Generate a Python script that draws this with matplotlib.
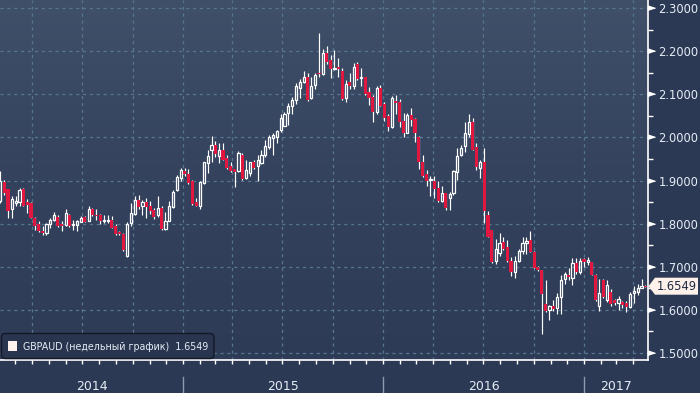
import datetime as dt
import numpy as np
import matplotlib
matplotlib.use("Agg")
import matplotlib.pyplot as plt
import matplotlib.dates as mdates
import matplotlib.transforms as mtransforms
from matplotlib.patches import Rectangle, Polygon, FancyBboxPatch
from matplotlib.colors import LinearSegmentedColormap

# ---------------- data (weekly GBPAUD candles) ----------------
start_date = dt.date(2014, 2, 2)
opens = [1.852, 1.897, 1.881, 1.833, 1.848, 1.850, 1.881, 1.850, 1.848, 1.813,
         1.800, 1.782, 1.778, 1.798, 1.808, 1.815, 1.798, 1.796, 1.821, 1.796,
         1.796, 1.804, 1.815, 1.805, 1.833, 1.820, 1.819, 1.805, 1.805, 1.809,
         1.794, 1.781, 1.777, 1.726, 1.802, 1.823, 1.854, 1.842, 1.850, 1.842,
         1.831, 1.819, 1.837, 1.788, 1.806, 1.839, 1.877, 1.906, 1.921, 1.916,
         1.898, 1.850, 1.842, 1.894, 1.941, 1.970, 1.983, 1.956, 1.970, 1.952,
         1.933, 1.927, 1.921, 1.958, 1.906, 1.917, 1.942, 1.934, 1.941, 1.958,
         1.978, 1.999, 2.001, 2.016, 2.027, 2.056, 2.072, 2.086, 2.114, 2.129,
         2.141, 2.091, 2.122, 2.148, 2.148, 2.196, 2.179, 2.158, 2.164, 2.155,
         2.091, 2.129, 2.119, 2.170, 2.137, 2.139, 2.106, 2.093, 2.058, 2.114,
         2.078, 2.050, 2.024, 2.085, 2.082, 2.039, 2.011, 2.052, 2.042, 2.000,
         1.944, 1.916, 1.901, 1.898, 1.883, 1.852, 1.870, 1.860, 1.870, 1.919,
         1.960, 1.979, 2.008, 2.036, 1.977, 1.929, 1.942, 1.821, 1.785, 1.714,
         1.733, 1.758, 1.745, 1.714, 1.687, 1.714, 1.737, 1.754, 1.762, 1.735,
         1.700, 1.692, 1.614, 1.600, 1.608, 1.604, 1.631, 1.671, 1.682, 1.674,
         1.708, 1.688, 1.718, 1.712, 1.710, 1.682, 1.609, 1.670, 1.624, 1.642,
         1.622, 1.617, 1.619, 1.615, 1.607, 1.638, 1.642, 1.650, 1.6556]
highs = [1.922, 1.902, 1.881, 1.864, 1.865, 1.883, 1.883, 1.856, 1.850, 1.815,
         1.805, 1.795, 1.802, 1.813, 1.826, 1.819, 1.805, 1.833, 1.823, 1.809,
         1.809, 1.818, 1.817, 1.840, 1.836, 1.835, 1.823, 1.819, 1.819, 1.817,
         1.798, 1.782, 1.778, 1.803, 1.848, 1.863, 1.867, 1.854, 1.860, 1.852,
         1.836, 1.865, 1.840, 1.826, 1.852, 1.879, 1.913, 1.929, 1.929, 1.927,
         1.902, 1.860, 1.898, 1.944, 1.970, 2.004, 1.991, 1.987, 1.987, 1.958,
         1.944, 1.927, 1.968, 1.964, 1.948, 1.944, 1.948, 1.958, 1.971, 1.995,
         2.006, 2.009, 2.018, 2.055, 2.060, 2.079, 2.093, 2.127, 2.135, 2.155,
         2.149, 2.141, 2.149, 2.241, 2.206, 2.212, 2.191, 2.202, 2.185, 2.162,
         2.133, 2.149, 2.172, 2.175, 2.160, 2.139, 2.116, 2.099, 2.119, 2.122,
         2.081, 2.055, 2.095, 2.098, 2.088, 2.056, 2.057, 2.067, 2.044, 2.003,
         1.960, 1.925, 1.911, 1.910, 1.898, 1.888, 1.870, 1.873, 1.925, 1.975,
         1.983, 2.036, 2.054, 2.044, 1.988, 1.948, 1.975, 1.829, 1.785, 1.764,
         1.779, 1.768, 1.762, 1.722, 1.725, 1.741, 1.768, 1.768, 1.784, 1.737,
         1.702, 1.693, 1.669, 1.612, 1.622, 1.638, 1.681, 1.688, 1.696, 1.720,
         1.720, 1.720, 1.720, 1.722, 1.712, 1.684, 1.672, 1.672, 1.670, 1.648,
         1.625, 1.632, 1.621, 1.621, 1.642, 1.655, 1.659, 1.671, 1.657]
lows = [1.848, 1.867, 1.813, 1.813, 1.840, 1.842, 1.840, 1.825, 1.813, 1.786,
        1.780, 1.774, 1.774, 1.790, 1.805, 1.793, 1.784, 1.794, 1.792, 1.786,
        1.782, 1.803, 1.803, 1.805, 1.817, 1.809, 1.800, 1.802, 1.802, 1.790,
        1.774, 1.774, 1.736, 1.722, 1.794, 1.821, 1.833, 1.819, 1.813, 1.823,
        1.810, 1.816, 1.786, 1.785, 1.806, 1.836, 1.875, 1.898, 1.911, 1.893,
        1.844, 1.840, 1.834, 1.893, 1.918, 1.944, 1.954, 1.941, 1.947, 1.927,
        1.919, 1.885, 1.919, 1.902, 1.904, 1.911, 1.927, 1.900, 1.939, 1.954,
        1.973, 1.960, 1.987, 2.012, 2.026, 2.029, 2.055, 2.078, 2.091, 2.127,
        2.085, 2.089, 2.112, 2.141, 2.144, 2.170, 2.137, 2.156, 2.139, 2.086,
        2.081, 2.112, 2.112, 2.132, 2.119, 2.099, 2.075, 2.035, 2.055, 2.072,
        2.037, 2.014, 2.022, 2.054, 2.025, 2.000, 2.009, 2.026, 1.990, 1.927,
        1.908, 1.888, 1.865, 1.860, 1.850, 1.850, 1.832, 1.832, 1.867, 1.902,
        1.956, 1.967, 2.002, 1.970, 1.925, 1.906, 1.802, 1.768, 1.709, 1.706,
        1.724, 1.739, 1.712, 1.679, 1.673, 1.712, 1.729, 1.729, 1.735, 1.696,
        1.690, 1.544, 1.594, 1.577, 1.598, 1.591, 1.591, 1.659, 1.669, 1.657,
        1.684, 1.684, 1.700, 1.703, 1.680, 1.620, 1.598, 1.628, 1.618, 1.610,
        1.612, 1.599, 1.604, 1.594, 1.605, 1.617, 1.635, 1.650, 1.654]
closes = [1.898, 1.871, 1.829, 1.856, 1.853, 1.879, 1.842, 1.843, 1.813, 1.795,
          1.782, 1.778, 1.798, 1.809, 1.819, 1.795, 1.794, 1.825, 1.794, 1.800,
          1.805, 1.812, 1.804, 1.834, 1.819, 1.817, 1.805, 1.809, 1.808, 1.791,
          1.776, 1.777, 1.738, 1.800, 1.825, 1.854, 1.839, 1.851, 1.839, 1.829,
          1.816, 1.837, 1.788, 1.805, 1.840, 1.873, 1.908, 1.925, 1.915, 1.894,
          1.846, 1.842, 1.896, 1.942, 1.956, 1.983, 1.962, 1.971, 1.947, 1.929,
          1.921, 1.920, 1.964, 1.904, 1.925, 1.942, 1.929, 1.948, 1.960, 1.981,
          2.000, 2.005, 2.014, 2.045, 2.055, 2.072, 2.086, 2.118, 2.129, 2.139,
          2.087, 2.119, 2.145, 2.146, 2.196, 2.175, 2.158, 2.162, 2.158, 2.089,
          2.124, 2.119, 2.164, 2.135, 2.139, 2.101, 2.091, 2.058, 2.114, 2.073,
          2.045, 2.024, 2.091, 2.079, 2.036, 2.009, 2.052, 2.040, 2.011, 1.944,
          1.911, 1.898, 1.904, 1.881, 1.852, 1.870, 1.837, 1.868, 1.921, 1.957,
          1.976, 2.011, 2.036, 1.970, 1.931, 1.942, 1.829, 1.770, 1.710, 1.741,
          1.755, 1.741, 1.714, 1.687, 1.714, 1.737, 1.756, 1.760, 1.735, 1.698,
          1.692, 1.637, 1.598, 1.608, 1.602, 1.631, 1.669, 1.684, 1.677, 1.708,
          1.688, 1.713, 1.712, 1.716, 1.682, 1.622, 1.638, 1.631, 1.657, 1.613,
          1.615, 1.625, 1.612, 1.607, 1.636, 1.644, 1.650, 1.655, 1.6549]

last_price = 1.6549
series_label = "GBPAUD (недельный график)  1.6549"
y_ticks = [1.5, 1.6, 1.7, 1.8, 1.9, 2.0, 2.1, 2.2, 2.3]
years = [2014, 2015, 2016, 2017]

# ---------------- style ----------------
W, H = 700, 393
FIG_BG = "#2c3954"
TOP_BG = "#405069"
BOT_BG = "#2e3b57"
GRID_C = "#56778f"
UP_C = "#ffffff"
DOWN_C = "#e2173f"
TXT_C = "#e4ecf5"

plt.rcParams["font.family"] = ["DejaVu Sans"]

fig = plt.figure(figsize=(W / 100, H / 100), dpi=100, facecolor=FIG_BG)
ax_left, ax_right, ax_top, ax_bot = 0, 648, 0, 360  # pixel box
ax = fig.add_axes([ax_left / W, 1 - ax_bot / H, (ax_right - ax_left) / W, (ax_bot - ax_top) / H])
ax.set_facecolor(BOT_BG)

# x scale: year separators at pixels 183 (2015) and 584 (2017)
d2015 = mdates.date2num(dt.date(2015, 1, 1))
d2017 = mdates.date2num(dt.date(2017, 1, 1))
ppd = (584 - 183) / (d2017 - d2015)
x0 = d2015 - 183 / ppd
x1 = d2015 + (648 - 183) / ppd
ax.set_xlim(x0, x1)

# y scale: 2.3 at pixel 8, 1.5 at pixel 353
ppu = (353 - 8) / 0.8
y_top = 2.3 + 8 / ppu
y_bot = 1.5 - (360 - 353) / ppu
ax.set_ylim(y_bot, y_top)

# gradient background
cmap = LinearSegmentedColormap.from_list("bg", [BOT_BG, "#34425d", TOP_BG])
grad = np.linspace(0, 1, 256).reshape(-1, 1)
ax.imshow(grad, extent=[x0, x1, y_bot, y_top], origin="lower", aspect="auto",
          cmap=cmap, zorder=0, interpolation="bicubic")

# grid
for yv in y_ticks:
    ax.axhline(yv, color=GRID_C, lw=0.9, ls=(0, (2.5, 3)), zorder=1)
for yr in range(2014, 2018):
    for m in (1, 4, 7, 10):
        dn = mdates.date2num(dt.date(yr, m, 1))
        if x0 < dn < x1:
            ax.axvline(dn, color=GRID_C, lw=0.9, ls=(0, (2.5, 3)), zorder=1)

# candles
xs = mdates.date2num([start_date + dt.timedelta(days=7 * i) for i in range(len(opens))])
wick_lw = 0.85
w_up = 2.2 / ppd
w_dn = 3.1 / ppd
min_h = 1.0 / ppu
for x, o, h, l, c in zip(xs, opens, highs, lows, closes):
    top, bot = max(o, c), min(o, c)
    if top - bot < min_h:
        mid = (top + bot) / 2
        top, bot = mid + min_h / 2, mid - min_h / 2
    if c >= o:
        ax.vlines(x, top, h, color=UP_C, lw=wick_lw, zorder=3)
        ax.vlines(x, l, bot, color=UP_C, lw=wick_lw, zorder=3)
        ax.add_patch(Rectangle((x - w_up / 2, bot), w_up, top - bot, facecolor="none",
                               edgecolor=UP_C, lw=0.9, zorder=4))
    else:
        ax.vlines(x, l, h, color=UP_C, lw=wick_lw, zorder=3)
        ax.add_patch(Rectangle((x - w_dn / 2, bot), w_dn, top - bot, facecolor=DOWN_C,
                               edgecolor="none", zorder=4))

# spines
for s in ("top", "left"):
    ax.spines[s].set_visible(False)
for s in ("right", "bottom"):
    ax.spines[s].set_color("white")
    ax.spines[s].set_linewidth(1.2)
    ax.spines[s].set_zorder(6)

# y axis on right
ax.yaxis.tick_right()
ax.set_yticks(y_ticks)
ax.set_yticklabels([f"{v:.4f}" for v in y_ticks])
ax.set_yticks([v + 0.05 for v in y_ticks[:-1]], minor=True)
ax.tick_params(axis="y", which="major", length=0, pad=7.5, labelcolor=TXT_C, labelsize=8.3)
ax.tick_params(axis="y", which="minor", length=3.5, width=1, color="white", direction="out")
tri = [(0, -0.33), (0, 0.33), (1, 0)]
ax.plot([1.0] * len(y_ticks), y_ticks, transform=ax.get_yaxis_transform(),
        marker=tri, ms=10, color="white", ls="none", clip_on=False, zorder=7)

# x axis: monthly ticks, no labels
months = [mdates.date2num(dt.date(y, m, 1)) for y in range(2014, 2018) for m in range(1, 13)]
months = [m for m in months if x0 < m < x1]
ax.set_xticks([])
ax.set_xticks(months, minor=True)
ax.tick_params(axis="x", which="minor", length=3, width=1, color="white", direction="out")
ax.tick_params(axis="x", which="major", length=0, labelbottom=False)

# year labels and separators
xtr = ax.get_xaxis_transform()
for yr in years:
    a = max(x0, mdates.date2num(dt.date(yr, 1, 1)))
    b = min(x1, mdates.date2num(dt.date(yr + 1, 1, 1)))
    ax.text((a + b) / 2, -26 / 360, str(yr), transform=xtr, ha="center", va="center",
            color=TXT_C, fontsize=9, clip_on=False)
    sep = mdates.date2num(dt.date(yr, 1, 1))
    if x0 < sep < x1:
        ax.plot([sep, sep], [-17 / 360, -33 / 360], transform=xtr, color="#8d9ab0",
                lw=1, clip_on=False)

# last price tag
idt = mtransforms.IdentityTransform()
yc = (H - ax_bot) + (last_price - y_bot) * ppu  # display pixels from bottom
tag = Polygon([(648.5, yc), (655, yc + 8.5), (698, yc + 8.5), (698, yc - 8.5), (655, yc - 8.5)],
              closed=True, facecolor="#fdf1ea", edgecolor="none", transform=idt, zorder=10)
fig.add_artist(tag)
fig.text(676.5 / W, yc / H, f"{last_price:.4f}", ha="center", va="center",
         color="#1d2940", fontsize=8.3, zorder=11)

# legend box
box = FancyBboxPatch((1.5, H - 358.5), 212.5, 25, boxstyle="round,pad=0,rounding_size=4",
                     facecolor="#29354e", edgecolor="#121826", lw=1.0, transform=idt, zorder=10)
fig.add_artist(box)
fig.add_artist(Rectangle((8, H - 351), 9, 10, facecolor="#fff1ee", edgecolor="none",
                         transform=idt, zorder=11))
fig.text(23 / W, (H - 346.5) / H, series_label, ha="left", va="center",
         color=TXT_C, fontsize=6.85, zorder=11)

fig.savefig("out.png", dpi=100, facecolor=FIG_BG)
